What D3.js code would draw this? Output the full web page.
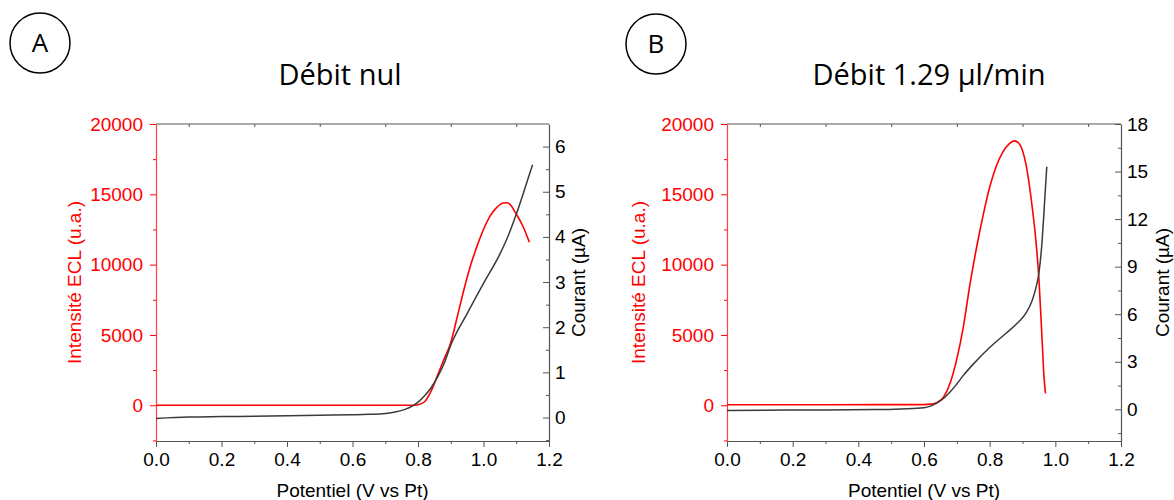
<!DOCTYPE html>
<html><head><meta charset="utf-8">
<script src="https://cdn.jsdelivr.net/npm/d3@7"></script>
<style>
html,body{margin:0;padding:0;background:#fff;}
svg text{font-family:"Liberation Sans",Arial,sans-serif;}
</style></head>
<body><svg id="c" width="1174" height="500"></svg>
<script>
// ---------- data ----------
const xTicks = [0, 0.2, 0.4, 0.6, 0.8, 1.0, 1.2];
const eclTicks = [0, 5000, 10000, 15000, 20000];
const courantTicksA = [0, 1, 2, 3, 4, 5, 6];
const courantTicksB = [0, 3, 6, 9, 12, 15, 18];
const titles = ["Débit nul", "Débit 1.29 µl/min"];
const panelLetters = ["A", "B"];
const xLabel = "Potentiel (V vs Pt)";
const yLeftLabel = "Intensité ECL (u.a.)";
const yRightLabel = "Courant (µA)";

// Panel A : ECL (red)
const potentielA_ecl = [0, 0.78, 0.80, 0.82, 0.84, 0.86, 0.88, 0.90, 0.92, 0.94, 0.96, 0.98, 1.00, 1.02, 1.04, 1.06, 1.07, 1.08, 1.10, 1.12, 1.14];
const eclA = [0, 0, 40, 250, 1000, 2150, 3300, 4450, 6300, 8200, 9900, 11300, 12500, 13450, 14050, 14380, 14400, 14300, 13600, 12750, 11600];
// Panel A : courant (black)
const potentielA_cur = [0, 0.1, 0.2, 0.3, 0.4, 0.5, 0.6, 0.65, 0.7, 0.73, 0.76, 0.78, 0.80, 0.82, 0.84, 0.86, 0.88, 0.90, 0.95, 1.00, 1.05, 1.07, 1.10, 1.12, 1.14, 1.15];
const courantA = [-0.02, 0.01, 0.02, 0.03, 0.04, 0.05, 0.06, 0.07, 0.09, 0.12, 0.18, 0.24, 0.34, 0.48, 0.66, 0.9, 1.2, 1.6, 2.3, 2.97, 3.62, 3.93, 4.5, 4.93, 5.38, 5.6];

// Panel B : ECL (red)
const potentielB_ecl = [0, 0.3, 0.6, 0.62, 0.64, 0.66, 0.68, 0.70, 0.72, 0.74, 0.76, 0.78, 0.80, 0.82, 0.84, 0.86, 0.875, 0.89, 0.91, 0.93, 0.94, 0.95, 0.96, 0.965, 0.97];
const eclB = [40, 40, 50, 80, 200, 600, 1600, 3300, 5600, 8600, 11200, 13500, 15500, 17000, 18000, 18600, 18800, 18600, 17200, 14000, 11900, 9000, 4500, 2200, 850];
// Panel B : courant (black)
const potentielB_cur = [0, 0.18, 0.45, 0.6, 0.62, 0.64, 0.66, 0.68, 0.70, 0.72, 0.75, 0.80, 0.85, 0.88, 0.91, 0.93, 0.94, 0.95, 0.96, 0.965, 0.97, 0.974];
const courantB = [-0.08, -0.05, -0.02, 0.1, 0.2, 0.4, 0.7, 1.1, 1.6, 2.14, 2.85, 3.9, 4.8, 5.35, 6.05, 6.9, 7.6, 8.6, 10.7, 12.3, 14.0, 15.3];

// ---------- drawing ----------
const RED = "#ff0000", GREY = "#555555", CURVE = "#3a3a3a";
const svg = d3.select("#c");

const panels = [
  {left:156, right:549, top:124, bottom:441, yL:[-2540,20000], yR:[-0.52,6.5],
   rTicks:courantTicksA, rMinorStep:0.5, ex:potentielA_ecl, ey:eclA, cx:potentielA_cur, cy:courantA,
   title:titles[0], titleX:340, letter:panelLetters[0], circ:[40,43], lblL:81, lblR:585},
  {left:727, right:1121, top:124, bottom:441, yL:[-2540,20000], yR:[-2,18],
   rTicks:courantTicksB, rMinorStep:1.5, ex:potentielB_ecl, ey:eclB, cx:potentielB_cur, cy:courantB,
   title:titles[1], titleX:929, letter:panelLetters[1], circ:[656,44], lblL:645, lblR:1169}
];

panels.forEach(p => {
  const g = svg.append("g");
  const x = d3.scaleLinear().domain([0,1.2]).range([p.left,p.right]);
  const yL = d3.scaleLinear().domain(p.yL).range([p.bottom,p.top]);
  const yR = d3.scaleLinear().domain(p.yR).range([p.bottom,p.top]);

  const xMinor = d3.range(0.1,1.2,0.2).map(v=>+v.toFixed(2));
  const lMinor = d3.range(-2500,20000,5000);
  const rMinor = d3.range(p.rTicks[0]-p.rMinorStep, p.yR[1], 2*p.rMinorStep).filter(v=>v>=p.yR[0]);

  // minor ticks
  g.append("g").attr("transform",`translate(0,${p.bottom})`)
    .call(d3.axisBottom(x).tickValues(xMinor).tickSize(3).tickFormat(""))
    .call(a=>a.select(".domain").remove()).selectAll("line").attr("stroke",GREY);
  g.append("g").attr("transform",`translate(0,${p.top})`)
    .call(d3.axisTop(x).tickValues(xMinor).tickSizeInner(-3).tickSizeOuter(0).tickFormat(""))
    .call(a=>a.select(".domain").remove()).selectAll("line").attr("stroke",GREY);
  g.append("g").attr("transform",`translate(${p.left},0)`)
    .call(d3.axisLeft(yL).tickValues(lMinor).tickSize(3).tickFormat(""))
    .call(a=>a.select(".domain").remove()).selectAll("line").attr("stroke",RED);
  g.append("g").attr("transform",`translate(${p.right},0)`)
    .call(d3.axisRight(yR).tickValues(rMinor).tickSizeInner(-3).tickSizeOuter(0).tickFormat(""))
    .call(a=>a.select(".domain").remove()).selectAll("line").attr("stroke",GREY);

  // top spine
  g.append("line").attr("x1",p.left).attr("x2",p.right).attr("y1",p.top).attr("y2",p.top).attr("stroke",GREY).attr("stroke-width",1.2);

  // bottom axis
  const ax = g.append("g").attr("transform",`translate(0,${p.bottom})`)
    .call(d3.axisBottom(x).tickValues(xTicks).tickSize(6).tickSizeOuter(0).tickPadding(5.5).tickFormat(d3.format(".1f")));
  ax.select(".domain").attr("stroke",GREY).attr("stroke-width",1.2);
  ax.selectAll(".tick line").attr("stroke",GREY);
  ax.selectAll("text").attr("font-size",19).attr("fill","#000");

  // right axis
  const ar = g.append("g").attr("transform",`translate(${p.right},0)`)
    .call(d3.axisRight(yR).tickValues(p.rTicks).tickSizeInner(-6).tickSizeOuter(0).tickPadding(6).tickFormat(d3.format("d")));
  ar.select(".domain").attr("stroke",GREY).attr("stroke-width",1.2);
  ar.selectAll(".tick line").attr("stroke",GREY);
  ar.selectAll("text").attr("font-size",19).attr("fill","#000");

  // left axis
  const al = g.append("g").attr("transform",`translate(${p.left},0)`)
    .call(d3.axisLeft(yL).tickValues(eclTicks).tickSize(6).tickSizeOuter(0).tickPadding(7).tickFormat(d3.format("d")));
  al.select(".domain").attr("stroke","#ff4040").attr("stroke-width",1.2);
  al.selectAll(".tick line").attr("stroke",RED);
  al.selectAll("text").attr("font-size",19).attr("fill",RED);

  // curves
  const lineE = d3.line().x(d=>x(d[0])).y(d=>yL(d[1])).curve(d3.curveMonotoneX);
  const lineC = d3.line().x(d=>x(d[0])).y(d=>yR(d[1])).curve(d3.curveMonotoneX);
  g.append("path").datum(d3.zip(p.ex,p.ey)).attr("d",lineE).attr("fill","none").attr("stroke",RED).attr("stroke-width",1.6);
  g.append("path").datum(d3.zip(p.cx,p.cy)).attr("d",lineC).attr("fill","none").attr("stroke",CURVE).attr("stroke-width",1.5);

  // axis titles
  const midY = (p.top+p.bottom)/2;
  g.append("text").attr("x",(p.left+p.right)/2).attr("y",497).attr("text-anchor","middle")
    .attr("font-size",19).attr("fill","#000").text(xLabel);
  g.append("text").attr("transform",`translate(${p.lblL},${midY}) rotate(-90)`).attr("text-anchor","middle")
    .attr("font-size",19).attr("fill",RED).text(yLeftLabel);
  g.append("text").attr("transform",`translate(${p.lblR},${midY}) rotate(-90)`).attr("text-anchor","middle")
    .attr("font-size",19).attr("fill","#000").text(yRightLabel);

  // title
  g.append("text").attr("x",p.titleX).attr("y",85).attr("text-anchor","middle")
    .style("font-family","'Open Sans',sans-serif").attr("font-size",29).attr("fill","#000").text(p.title);

  // letter circle
  g.append("circle").attr("cx",p.circ[0]).attr("cy",p.circ[1]).attr("r",30)
    .attr("fill","none").attr("stroke","#000").attr("stroke-width",1.5);
  g.append("text").attr("x",p.circ[0]).attr("y",p.circ[1]).attr("dy","0.36em").attr("text-anchor","middle")
    .style("font-family","'Open Sans',sans-serif").attr("font-size",26).attr("fill","#000").text(p.letter);
});
</script></body></html>
